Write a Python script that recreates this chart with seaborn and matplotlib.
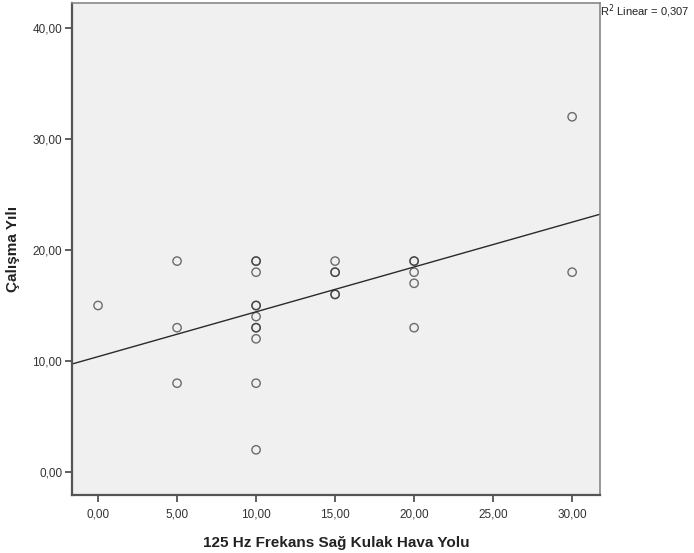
import numpy as np
import pandas as pd
import matplotlib
matplotlib.use("Agg")
import matplotlib.pyplot as plt
from matplotlib.ticker import FuncFormatter
import seaborn as sns

# data (overlapping circles repeated)
hz125 = [0, 5, 5, 5,
         10, 10, 10, 10, 10, 10, 10, 10, 10, 10, 10,
         15, 15, 15, 15, 15,
         20, 20, 20, 20, 20,
         30, 30]
calisma = [15, 19, 13, 8,
           19, 19, 18, 15, 15, 14, 13, 13, 12, 8, 2,
           19, 18, 18, 16, 16,
           19, 19, 18, 17, 13,
           32, 18]
x_ticks = [0, 5, 10, 15, 20, 25, 30]
y_ticks = [0, 10, 20, 30, 40]
R2_LINEAR = 0.307

df = pd.DataFrame({"x": hz125, "y": calisma})

sns.set_style("white")
plt.rcParams["font.family"] = ["Liberation Sans", "DejaVu Sans"]

fig = plt.figure(figsize=(6.94, 5.53), dpi=100)
ax = fig.add_axes([0.1037, 0.1049, 0.761, 0.8897])
ax.set_facecolor("#f0f0f0")

xlim = (-1.65, 31.77)
ylim = (-2.07, 42.25)
ax.set_xlim(xlim)
ax.set_ylim(ylim)

sns.scatterplot(data=df, x="x", y="y", ax=ax, marker="o", s=36,
                facecolors="none", edgecolor=(0.2, 0.2, 0.2, 0.7),
                linewidth=1.0, legend=False)
sns.regplot(data=df, x="x", y="y", ax=ax, scatter=False, ci=None,
            truncate=False, line_kws=dict(color="#2a2a2a", lw=1.0))

ax.set_xlim(xlim)
ax.set_ylim(ylim)

comma = FuncFormatter(lambda v, p: f"{v:.2f}".replace(".", ","))
ax.set_xticks(x_ticks)
ax.set_yticks(y_ticks)
ax.xaxis.set_major_formatter(comma)
ax.yaxis.set_major_formatter(comma)
ax.tick_params(axis="both", direction="out", length=5, width=1.2,
               color="#444444", labelsize=8.5, labelcolor="#333333")
ax.tick_params(axis="x", pad=5)
ax.tick_params(axis="y", pad=2)
ax.tick_params(axis="both", bottom=True, left=True)

for side in ["left", "bottom"]:
    ax.spines[side].set_color("#555555")
    ax.spines[side].set_linewidth(1.6)
for side in ["top", "right"]:
    ax.spines[side].set_color("#888888")
    ax.spines[side].set_linewidth(1.2)

ax.set_xlabel("125 Hz Frekans Sağ Kulak Hava Yolu", fontsize=11,
              fontweight="bold", color="#222222", labelpad=11)
ax.set_ylabel("Çalışma Yılı", fontsize=11, fontweight="bold",
              color="#222222", labelpad=9)

r2_txt = "R$^2$ Linear = " + f"{R2_LINEAR:.3f}".replace(".", ",")
fig.text(0.8646, 0.9955, r2_txt, fontsize=8, color="#222222",
         ha="left", va="top")

fig.savefig("out.png", dpi=100)
